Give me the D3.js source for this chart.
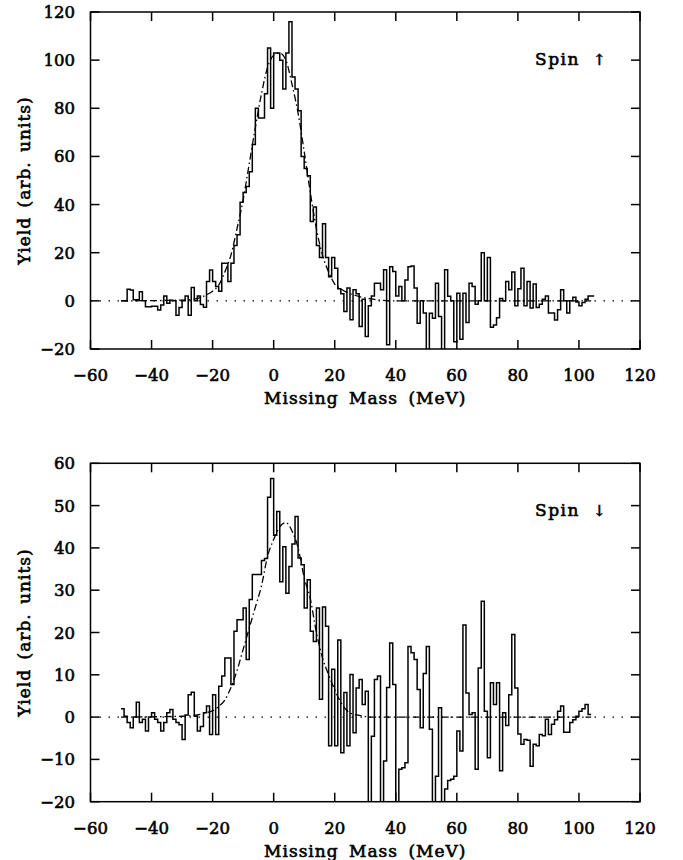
<!DOCTYPE html>
<html lang="en">
<head>
<meta charset="utf-8">
<script src="https://d3js.org/d3.v7.min.js"></script>
<style>
  body { margin: 0; background: #fff; }
  svg text { font-family: "DejaVu Serif", serif; fill: #000; stroke: #000; stroke-width: 0.6px; }
</style>
</head>
<body>
<svg width="683" height="860"></svg>
<script>
// histogram bins are 1 MeV wide, first bin starts at binStart
var binStartUp = -50;
var yieldUp = [0, 0, 4.8, 4.5, 0.5, 0.5, 3.8, 0, -2.4, -2.4,
  -2.2, -2.2, -3.8, -1.7, 2, -1, 0.3, 0, -6, -2.8,
  0, 2, -6, 5.5, 0, 2, -1.5, -2.7, 8, 12.8,
  8, 6, 4, 15.6, 15.6, 8, 15.6, 23, 27.5, 41,
  45, 47.5, 53.6, 65, 80, 76, 76, 86, 105, 80,
  103, 103, 100, 88, 103, 116, 93, 88, 79, 60,
  55, 52, 33, 39, 23, 18, 32, 18, 10, 18,
  13.5, 5, 3, -4.4, 5.3, -7.9, 4.6, 3, -10.7, 0.7,
  -14.8, -2, 2, 7.3, 7.3, 4.6, 12.9, -18.2, 14.2, 12.2,
  2, 6, 0, 8.7, 14.2, 14.5, 5.3, -9.3, 0, -5,
  -25, -5.1, -7.2, 7.3, -6.5, -25, 12.9, 1.9, 0, -17,
  3.2, -16, 3.2, -9, 7.3, 6, -1.4, 0, 20, 0,
  18, -11, -10, -7, 1, 0, 8, 4.6, 12, -2,
  5, 13.5, -2, 8, -3, 7, -2.8, -1.4, 0.7, 2,
  -5, -5, -8, -3.7, 4.6, 0, -5, 0, 1.5, -0.5,
  -2, -0.7, 0.7, 2, 2];

var binStartDown = -50;
var yieldDown = [2, 0.2, -1.3, -2.5, 0, 3.5, -1.3, -0.5, -3.3, 0,
  1, -0.5, -1.3, -3.3, -1.3, 1, 1.8, -0.5, -1.3, -1.8,
  -5.3, 0.5, 5.3, 5.9, 0.2, -3.3, -2.2, 1, 2.6, -4.1,
  5.3, -4.1, 7.3, 9.7, 14, 14, 7.7, 20.3, 23, 23,
  25.8, 13.6, 27.8, 33.7, 33.7, 33.7, 37, 37.5, 52, 56.4,
  43, 48.6, 32, 40.3, 29.3, 35.6, 40.9, 47.4, 37.6, 36,
  25.8, 32.5, 20.3, 17.9, 25.8, 4.2, 26, 21.5, -6.8, 11.3,
  -6.8, 18.2, -8.4, 5.8, -6.8, 10.1, -3.7, 6.9, 8.9, 3,
  6.1, -22, -4.5, 8.9, 9.7, -22, -10.4, 7, 17.5, 7.7,
  -22, -12.3, -12, -10.8, 16.7, 15.2, 13.6, 6.5, -2.5, 10.3,
  16.7, -2.9, -22, -14, 2.2, -22, -17, -15, -14.7, -14,
  -3.3, -8, 21.8, 5.7, 0.6, 1, -12.3, 11.6, 27.4, 1.4,
  -9.6, 8.1, 3, 8.1, -12.7, 1, -2, 5.3, 19.5, 6.9,
  -4, -6.4, -5.3, -5.5, -11.6, -6.4, -6.8, -4.1, -4.4, -0.5,
  -4.1, -1.7, -0.6, 1.4, 2.6, -3.6, -3.6, -1.3, -0.6, 0.2,
  1.4, 2, 3, 0.6];

// fitted curves (dash-dot)
var fitMass = [-50, -30, -25, -22, -20, -18, -16, -14, -12, -10, -8, -6, -4, -2, 0, 2, 4, 6, 8, 10,
  12, 14, 16, 18, 20, 22, 25, 28, 32, 40, 104];
var fitUp = [0, 0.3, 1, 2.5, 4, 6.5, 12, 19, 30, 42, 57, 72, 86, 97, 102, 103, 100, 90, 78, 62,
  45, 30, 19, 12, 7, 5, 3, 1.8, 0.8, 0, 0];
var fitDown = [0, 0.2, 0.5, 1, 1.5, 2.5, 4, 7, 11, 16, 21, 26, 31, 38, 42, 45, 46, 44, 40, 33,
  28, 20, 14, 10, 6.5, 3.5, 1, 0.4, 0, 0, 0];

var xTicks = [-60, -40, -20, 0, 20, 40, 60, 80, 100, 120];
var yTicksUp = [-20, 0, 20, 40, 60, 80, 100, 120];
var yTicksDown = [-20, -10, 0, 10, 20, 30, 40, 50, 60];

var svg = d3.select("svg");
var x = d3.scaleLinear().domain([-60, 120]).range([90.5, 640]);
var tickLen = 9;

function fmt(d) { return d < 0 ? "\u2212" + Math.abs(d) : "" + d; }

function drawPanel(top, bottom, yDomain, yTicks, binStart, values, fit, arrow, id) {
  var y = d3.scaleLinear().domain(yDomain).range([bottom, top]);
  var g = svg.append("g");

  svg.append("clipPath").attr("id", id)
    .append("rect")
    .attr("x", x(-60)).attr("y", top)
    .attr("width", x(120) - x(-60)).attr("height", bottom - top);

  // dotted zero line
  g.append("line")
    .attr("x1", x(-60)).attr("x2", x(120))
    .attr("y1", y(0)).attr("y2", y(0))
    .attr("stroke", "#000").attr("stroke-width", 1.3)
    .attr("stroke-dasharray", "1.5,7.5");

  // fit curve
  var fitPts = fitMass.map(function(m, i) { return [m, fit[i]]; });
  g.append("path")
    .attr("clip-path", "url(#" + id + ")")
    .attr("d", d3.line()
      .x(function(d) { return x(d[0]); })
      .y(function(d) { return y(d[1]); })
      .curve(d3.curveMonotoneX)(fitPts))
    .attr("fill", "none").attr("stroke", "#000").attr("stroke-width", 1.3)
    .attr("stroke-dasharray", "7,3,1.5,3");

  // histogram
  var pts = values.map(function(v, i) { return [binStart + i, v]; });
  pts.push([binStart + values.length, values[values.length - 1]]);
  g.append("path")
    .attr("clip-path", "url(#" + id + ")")
    .attr("d", d3.line()
      .x(function(d) { return x(d[0]); })
      .y(function(d) { return y(d[1]); })
      .curve(d3.curveStepAfter)(pts))
    .attr("fill", "none").attr("stroke", "#000").attr("stroke-width", 1.5);

  // frame
  g.append("rect")
    .attr("x", x(-60)).attr("y", top)
    .attr("width", x(120) - x(-60)).attr("height", bottom - top)
    .attr("fill", "none").attr("stroke", "#000").attr("stroke-width", 1.5);

  // ticks on all four sides, pointing inward
  xTicks.forEach(function(t) {
    g.append("line").attr("x1", x(t)).attr("x2", x(t)).attr("y1", bottom).attr("y2", bottom - tickLen)
      .attr("stroke", "#000").attr("stroke-width", 1.5);
    g.append("line").attr("x1", x(t)).attr("x2", x(t)).attr("y1", top).attr("y2", top + tickLen)
      .attr("stroke", "#000").attr("stroke-width", 1.5);
    g.append("text").attr("x", x(t)).attr("y", bottom + 32)
      .attr("text-anchor", "middle").attr("font-size", "16.5px").text(fmt(t));
  });
  yTicks.forEach(function(t) {
    g.append("line").attr("x1", x(-60)).attr("x2", x(-60) + tickLen).attr("y1", y(t)).attr("y2", y(t))
      .attr("stroke", "#000").attr("stroke-width", 1.5);
    g.append("line").attr("x1", x(120)).attr("x2", x(120) - tickLen).attr("y1", y(t)).attr("y2", y(t))
      .attr("stroke", "#000").attr("stroke-width", 1.5);
    g.append("text").attr("x", 75).attr("y", y(t) + 6)
      .attr("text-anchor", "end").attr("font-size", "16.5px").text(fmt(t));
  });

  // axis titles
  g.append("text")
    .attr("x", (x(-60) + x(120)) / 2).attr("y", bottom + 55)
    .attr("text-anchor", "middle").attr("font-size", "17px")
    .attr("letter-spacing", "1px").attr("word-spacing", "4px")
    .text("Missing Mass (MeV)");
  g.append("text")
    .attr("transform", "translate(30," + ((top + bottom) / 2) + ") rotate(-90)")
    .attr("text-anchor", "middle").attr("font-size", "17px")
    .attr("letter-spacing", "1px").attr("word-spacing", "3px")
    .text("Yield (arb. units)");

  // spin label
  g.append("text").attr("x", 535).attr("y", top + 53)
    .attr("font-size", "17px").attr("letter-spacing", "1.5px").text("Spin");
  g.append("text").attr("x", 593).attr("y", top + 53)
    .attr("font-size", "15px").text(arrow);
}

drawPanel(12, 349, [-20, 120], yTicksUp, binStartUp, yieldUp, fitUp, "\u2191", "clipUp");
drawPanel(463.3, 801.7, [-20, 60], yTicksDown, binStartDown, yieldDown, fitDown, "\u2193", "clipDown");
</script>
</body>
</html>
